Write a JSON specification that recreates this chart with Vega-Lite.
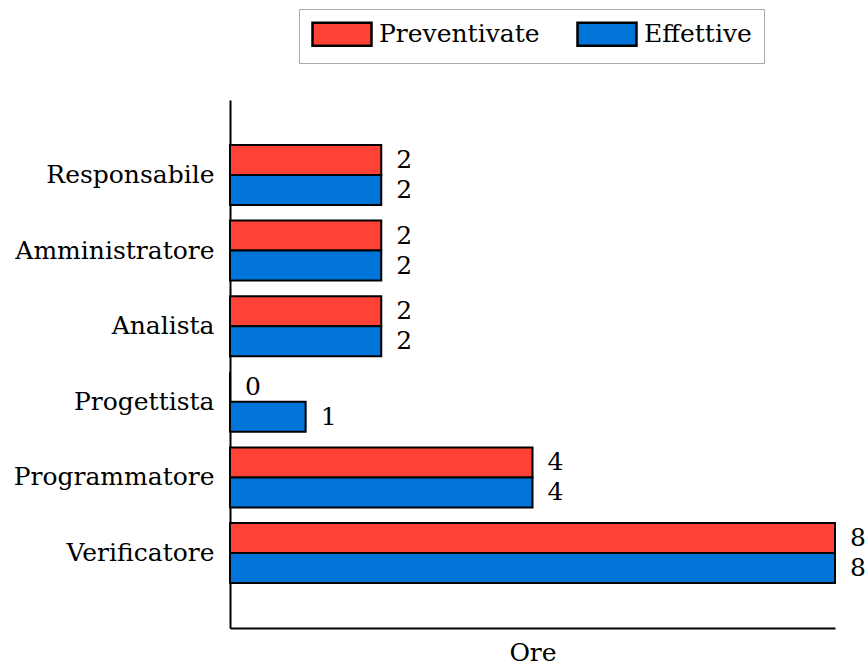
{
  "$schema": "https://vega.github.io/schema/vega-lite/v6.json",
  "autosize": {"type": "none"},
  "padding": {"left": 230, "top": 100, "right": 32, "bottom": 38},
  "width": 605,
  "height": 528,
  "config": {
    "font": "DejaVu Serif",
    "view": {"stroke": null}
  },
  "data": {
    "values": [
      {"ruolo": "Responsabile", "serie": "Preventivate", "ore": 2},
      {"ruolo": "Responsabile", "serie": "Effettive", "ore": 2},
      {"ruolo": "Amministratore", "serie": "Preventivate", "ore": 2},
      {"ruolo": "Amministratore", "serie": "Effettive", "ore": 2},
      {"ruolo": "Analista", "serie": "Preventivate", "ore": 2},
      {"ruolo": "Analista", "serie": "Effettive", "ore": 2},
      {"ruolo": "Progettista", "serie": "Preventivate", "ore": 0},
      {"ruolo": "Progettista", "serie": "Effettive", "ore": 1},
      {"ruolo": "Programmatore", "serie": "Preventivate", "ore": 4},
      {"ruolo": "Programmatore", "serie": "Effettive", "ore": 4},
      {"ruolo": "Verificatore", "serie": "Preventivate", "ore": 8},
      {"ruolo": "Verificatore", "serie": "Effettive", "ore": 8}
    ]
  },
  "encoding": {
    "y": {
      "field": "ruolo",
      "type": "nominal",
      "sort": null,
      "scale": {"paddingInner": 0.206, "paddingOuter": 0.595},
      "axis": {
        "title": null,
        "ticks": false,
        "domainColor": "black",
        "domainWidth": 2,
        "labelFont": "DejaVu Serif",
        "labelFontSize": 25,
        "labelColor": "black",
        "labelPadding": 16,
        "labelLimit": 0
      }
    },
    "yOffset": {
      "field": "serie",
      "type": "nominal",
      "sort": ["Preventivate", "Effettive"],
      "scale": {"paddingInner": 0, "paddingOuter": 0}
    },
    "x": {
      "field": "ore",
      "type": "quantitative",
      "scale": {"domain": [0, 8], "nice": false},
      "axis": {
        "title": "Ore",
        "titleFont": "DejaVu Serif",
        "titleFontSize": 25,
        "titleFontWeight": "normal",
        "titleColor": "black",
        "titlePadding": 12,
        "labels": false,
        "ticks": false,
        "grid": false,
        "domainColor": "black",
        "domainWidth": 2
      }
    }
  },
  "layer": [
    {
      "mark": {"type": "bar", "stroke": "black", "strokeWidth": 2},
      "encoding": {
        "color": {
          "field": "serie",
          "type": "nominal",
          "sort": ["Preventivate", "Effettive"],
          "scale": {"domain": ["Preventivate", "Effettive"], "range": ["#FF4136", "#0074D9"]},
          "legend": {
            "title": null,
            "orient": "none",
            "direction": "horizontal",
            "legendX": 69,
            "legendY": -91,
            "strokeColor": "#aaaaaa",
            "padding": 12,
            "symbolType": "M-1,-1H4.13V1H-1Z",
            "symbolSize": 529,
            "symbolStrokeColor": "black",
            "symbolStrokeWidth": 2.5,
            "symbolOpacity": 1,
            "labelFont": "DejaVu Serif",
            "labelFontSize": 25,
            "labelColor": "black",
            "labelOffset": 42,
            "labelLimit": 400,
            "columnPadding": 32
          }
        }
      }
    },
    {
      "mark": {"type": "text", "align": "left", "baseline": "middle", "dx": 15, "font": "DejaVu Serif", "fontSize": 25, "color": "black"},
      "encoding": {
        "text": {"field": "ore", "type": "quantitative"}
      }
    }
  ]
}
